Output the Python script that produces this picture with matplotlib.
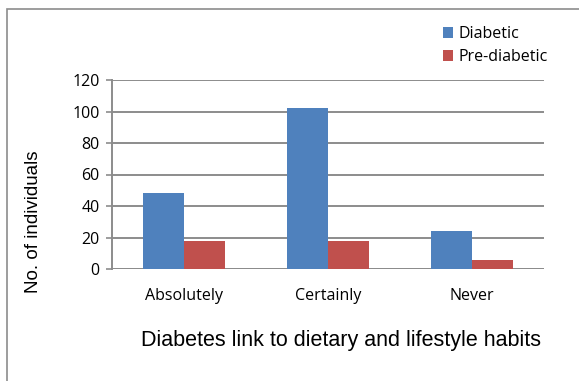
import matplotlib.pyplot as plt
import matplotlib.patches as mpatches
import numpy as np

categories = ["Absolutely", "Certainly", "Never"]
diabetic = [48, 102, 24]
pre_diabetic = [18, 18, 6]
yticks = [0, 20, 40, 60, 80, 100, 120]

W, H = 579, 381
fig = plt.figure(figsize=(W / 100, H / 100), dpi=100)
ax = fig.add_axes([112 / W, 1 - 269 / H, (544 - 112) / W, (269 - 80) / H])

x = np.arange(len(categories))
bw = 0.285
ax.bar(x - bw / 2, diabetic, bw, color="#4F81BD", label="Diabetic", zorder=3)
ax.bar(x + bw / 2, pre_diabetic, bw, color="#C0504D", label="Pre-diabetic", zorder=3)

ax.set_xlim(-0.5, 2.5)
ax.set_ylim(0, 120)
ax.set_yticks(yticks)
ax.yaxis.grid(True, color="#8c8c8c", linewidth=1.4, zorder=0)
ax.set_axisbelow(True)
for s in ["top", "right", "bottom"]:
    ax.spines[s].set_visible(False)
ax.spines["left"].set_color("#8c8c8c")
ax.spines["left"].set_linewidth(1.4)
ax.axhline(0, color="#8c8c8c", linewidth=1.4, zorder=1)
ax.tick_params(axis="y", length=4, color="#8c8c8c", width=1.2, labelsize=11.5, pad=5)
ax.tick_params(axis="x", length=0, labelsize=11.5, pad=14)
ax.set_xticks(x)
ax.set_xticklabels(categories)
for lab in ax.get_xticklabels() + ax.get_yticklabels():
    lab.set_family("Open Sans")

fig.text(33 / W, 1 - 222 / H, "No. of individuals", rotation=90, ha="center", va="center",
         fontsize=13.5, family="Liberation Sans")
fig.text(341 / W, 1 - 346 / H, "Diabetes link to dietary and lifestyle habits", ha="center",
         va="baseline", fontsize=15.5, family="Liberation Sans")

leg = fig.legend(loc="upper left", bbox_to_anchor=(443 / W, 1 - 26 / H), frameon=False,
                 handlelength=0.65, handleheight=0.65, handletextpad=0.35, labelspacing=0.45,
                 prop={"family": "Open Sans", "size": 11.5}, borderpad=0, borderaxespad=0)

fig.patches.append(mpatches.Rectangle((7 / W, 0.0 - 0.01), 1.0, 1 - 9 / H + 0.01,
                                      transform=fig.transFigure, fill=False,
                                      edgecolor="#8c8c8c", linewidth=1.2))

fig.savefig("out.png", dpi=100)
